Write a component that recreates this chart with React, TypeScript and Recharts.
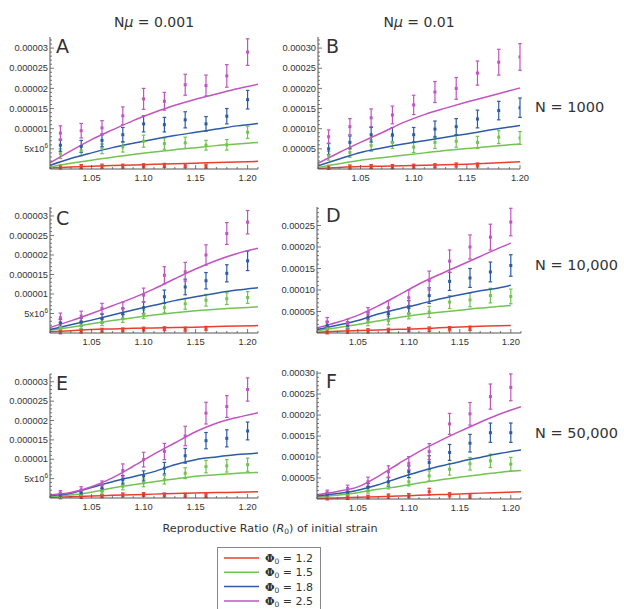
import React from 'react';
import { ComposedChart, Line, Scatter, XAxis, YAxis, ErrorBar } from 'recharts';

// ---------- colours ----------
const RED = '#e8402f';
const GREEN = '#72c452';
const BLUE = '#2d5ba8';
const MAGENTA = '#c154c1';
const AXIS = '#555555';
const TXT = '#333333';

// ---------- x positions ----------
const PT_X = [1.02, 1.04, 1.06, 1.08, 1.1, 1.12, 1.14, 1.16, 1.18, 1.2];
const PT_X_RED = [1.02, 1.04, 1.06, 1.08, 1.1, 1.12, 1.14, 1.16];
const LINE_X = [1.01, 1.03, 1.05, 1.07, 1.09, 1.11, 1.13, 1.15, 1.17, 1.19, 1.21];
const LINE_X_S = [1.01, 1.03, 1.05, 1.07, 1.09, 1.11, 1.13, 1.15, 1.17, 1.19, 1.2];
const X_MAJOR = [1.05, 1.1, 1.15, 1.2];

// ---------- tick labels ----------
const Y_MAJOR_SMALL = [5, 10, 15, 20, 25, 30]; // units of 1e-6
const Y_LABELS_SMALL = ['5x10^6', '0.00001', '0.000015', '0.00002', '0.000025', '0.00003'];
const Y_MAJOR_BIG = [5, 10, 15, 20, 25, 30]; // units of 1e-5
const Y_LABELS_BIG = ['0.00005', '0.00010', '0.00015', '0.00020', '0.00025', '0.00030'];
const Y_MAJOR_D = [5, 10, 15, 20, 25];
const Y_LABELS_D = ['0.00005', '0.00010', '0.00015', '0.00020', '0.00025'];

// ---------- Panel A (x1e-6) ----------
const A_M = [8.9, 9.5, 10.2, 13.2, 17.4, 16.8, 20.9, 20.7, 23.1, 29.0];
const A_M_E = [1.8, 1.8, 1.8, 2.2, 2.6, 2.2, 2.6, 2.6, 2.8, 3.3];
const A_B = [5.9, 5.6, 7.1, 8.5, 11.2, 11.0, 12.2, 11.2, 13.1, 17.2];
const A_B_E = [1.5, 1.5, 1.6, 1.8, 2.0, 1.8, 2.0, 1.8, 1.9, 2.3];
const A_G = [3.8, 4.5, 5.0, 5.5, 6.9, 6.3, 6.5, 5.9, 6.0, 9.1];
const A_G_E = [1.2, 1.2, 1.2, 1.3, 1.5, 1.4, 1.4, 1.2, 1.3, 1.5];
const A_R = [0.5, 0.6, 0.7, 0.7, 0.8, 0.9, 0.8, 0.7];
const A_R_E = [0.5, 0.5, 0.5, 0.5, 0.5, 0.5, 0.5, 0.5];
const A_LM = [1.5, 4.5, 7.3, 9.7, 12.0, 14.0, 15.8, 17.3, 18.6, 19.9, 21.0];
const A_LB = [0.9, 2.6, 4.0, 5.3, 6.4, 7.4, 8.3, 9.1, 9.9, 10.7, 11.3];
const A_LG = [0.5, 1.4, 2.2, 2.9, 3.6, 4.2, 4.8, 5.3, 5.8, 6.2, 6.6];
const A_LR = [0.25, 0.5, 0.7, 0.85, 1.0, 1.15, 1.3, 1.45, 1.6, 1.75, 1.9];

// ---------- Panel B (x1e-5) ----------
const B_M = [8.0, 10.5, 12.7, 13.4, 15.9, 19.1, 20.0, 23.8, 26.5, 27.8];
const B_M_E = [1.7, 2.0, 2.2, 2.2, 2.4, 2.6, 2.7, 3.0, 3.2, 3.3];
const B_B = [5.0, 6.6, 8.5, 8.5, 8.5, 9.9, 10.5, 12.4, 14.5, 15.2];
const B_B_E = [1.4, 1.6, 1.8, 1.8, 1.8, 2.0, 2.0, 2.2, 2.3, 2.4];
const B_G = [3.3, 4.1, 5.8, 6.6, 5.4, 6.6, 6.9, 6.6, 7.9, 7.7];
const B_G_E = [1.1, 1.2, 1.4, 1.5, 1.3, 1.5, 1.5, 1.5, 1.6, 1.6];
const B_R = [0.4, 0.5, 0.6, 0.6, 0.7, 0.8, 1.0, 1.0];
const B_R_E = [0.5, 0.5, 0.5, 0.5, 0.5, 0.5, 0.5, 0.5];
const B_LM = [1.4, 4.1, 6.6, 9.0, 11.5, 13.5, 15.1, 16.6, 18.0, 19.4, 20.1];
const B_LB = [0.8, 2.5, 4.1, 5.2, 6.2, 7.0, 7.9, 8.7, 9.6, 10.4, 10.8];
const B_LG = [0.4, 1.3, 2.2, 2.8, 3.4, 4.0, 4.6, 5.1, 5.5, 6.0, 6.2];
const B_LR = [0.15, 0.4, 0.6, 0.7, 0.8, 0.9, 1.05, 1.2, 1.4, 1.65, 1.8];

// ---------- Panel C (x1e-6) ----------
const C_M = [3.9, 4.3, 6.3, 6.3, 9.7, 14.8, 15.7, 20.0, 25.5, 28.4];
const C_M_E = [1.2, 1.3, 1.3, 1.6, 1.8, 2.2, 2.4, 2.6, 2.8, 3.0];
const C_B = [2.6, 2.8, 3.7, 5.0, 6.5, 9.3, 11.8, 13.4, 15.3, 18.5];
const C_B_E = [0.9, 1.0, 1.1, 1.3, 1.5, 1.7, 2.0, 2.1, 2.2, 2.5];
const C_G = [1.4, 2.0, 2.8, 3.7, 4.8, 6.5, 7.5, 8.4, 8.8, 9.1];
const C_G_E = [0.7, 0.8, 0.9, 1.0, 1.1, 1.3, 1.4, 1.5, 1.5, 1.5];
const C_R = [0.3, 0.5, 0.7, 0.8, 1.0, 1.1, 1.0, 1.2];
const C_R_E = [0.5, 0.5, 0.5, 0.5, 0.5, 0.5, 0.5, 0.5];
const C_LM = [1.4, 3.1, 5.0, 7.0, 9.0, 11.3, 13.9, 16.4, 18.6, 20.4, 21.7];
const C_LB = [0.9, 2.1, 3.3, 4.6, 5.9, 7.1, 8.3, 9.3, 10.2, 11.0, 11.6];
const C_LG = [0.7, 1.5, 2.4, 3.2, 3.9, 4.6, 5.2, 5.7, 6.1, 6.4, 6.7];
const C_LR = [0.3, 0.6, 0.9, 1.05, 1.2, 1.3, 1.4, 1.5, 1.65, 1.8, 1.9];

// ---------- Panel D (x1e-5) ----------
const D_M = [2.6, 2.2, 4.5, 5.9, 8.2, 12.2, 16.7, 20.0, 22.3, 25.8];
const D_M_E = [1.0, 1.0, 1.4, 1.6, 1.8, 2.2, 2.6, 2.8, 3.0, 3.2];
const D_B = [1.8, 1.8, 3.7, 4.5, 6.0, 8.7, 12.0, 12.8, 14.2, 15.7];
const D_B_E = [0.8, 0.8, 1.2, 1.3, 1.5, 1.8, 2.1, 2.2, 2.3, 2.5];
const D_G = [1.0, 1.4, 2.6, 2.9, 4.5, 4.9, 7.2, 7.7, 8.7, 8.5];
const D_G_E = [0.6, 0.7, 0.9, 1.0, 1.2, 1.3, 1.5, 1.6, 1.7, 1.7];
const D_R = [0.3, 0.4, 0.5, 0.6, 0.8, 0.9, 1.0, 1.1];
const D_R_E = [0.5, 0.5, 0.5, 0.5, 0.5, 0.5, 0.5, 0.5];
const D_LM = [1.2, 2.5, 4.1, 6.3, 8.8, 11.4, 13.6, 15.7, 17.8, 19.9, 20.9];
const D_LB = [0.8, 1.8, 2.9, 4.4, 5.6, 6.7, 7.9, 8.9, 9.8, 10.6, 11.1];
const D_LG = [0.5, 1.2, 2.0, 2.8, 3.6, 4.3, 4.8, 5.3, 5.8, 6.2, 6.4];
const D_LR = [0.15, 0.4, 0.6, 0.7, 0.85, 1.0, 1.2, 1.4, 1.55, 1.7, 1.75];

// ---------- Panel E (x1e-6) ----------
const E_M = [1.3, 2.1, 3.4, 7.1, 9.9, 12.0, 16.0, 21.9, 23.6, 28.0];
const E_M_E = [0.6, 0.8, 1.0, 1.7, 1.9, 2.1, 2.5, 2.8, 2.8, 3.0];
const E_B = [0.7, 1.3, 2.6, 4.7, 5.7, 7.7, 10.9, 14.8, 15.4, 17.3];
const E_B_E = [0.5, 0.6, 0.8, 1.1, 1.3, 1.5, 1.9, 2.1, 2.2, 2.3];
const E_G = [0.4, 0.9, 1.7, 3.0, 3.9, 4.7, 6.4, 8.1, 8.3, 8.6];
const E_G_E = [0.4, 0.5, 0.7, 0.9, 1.0, 1.1, 1.4, 1.6, 1.6, 1.7];
const E_R = [0.2, 0.3, 0.5, 0.8, 0.9, 0.8, 0.7, 0.6];
const E_R_E = [0.4, 0.4, 0.4, 0.5, 0.5, 0.5, 0.5, 0.5];
const E_LM = [0.8, 1.4, 2.9, 5.2, 8.2, 11.3, 14.2, 17.1, 19.3, 20.8, 22.0];
const E_LB = [0.6, 1.2, 2.7, 4.2, 5.5, 6.8, 8.6, 9.9, 10.6, 11.2, 11.6];
const E_LG = [0.4, 0.8, 1.5, 2.6, 3.4, 4.2, 4.9, 5.6, 6.0, 6.4, 6.6];
const E_LR = [0.2, 0.35, 0.5, 0.7, 0.85, 1.0, 1.15, 1.3, 1.4, 1.5, 1.6];

// ---------- Panel F (x1e-5) ----------
const F_M = [1.5, 2.5, 4.1, 6.5, 8.5, 11.3, 17.9, 20.3, 24.4, 26.6];
const F_M_E = [0.6, 0.8, 1.1, 1.4, 1.6, 1.9, 2.5, 2.7, 3.0, 3.2];
const F_B = [1.0, 1.6, 2.8, 4.1, 6.5, 8.7, 11.1, 13.3, 15.8, 15.8];
const F_B_E = [0.5, 0.6, 0.9, 1.1, 1.4, 1.6, 1.9, 2.1, 2.3, 2.3];
const F_G = [0.6, 1.2, 2.1, 3.3, 4.1, 5.5, 7.1, 8.4, 9.1, 8.3];
const F_G_E = [0.4, 0.5, 0.7, 0.9, 1.0, 1.2, 1.4, 1.5, 1.6, 1.6];
const F_R = [0.2, 0.3, 0.5, 0.7, 0.8, 1.75, 1.0, 0.7];
const F_R_E = [0.4, 0.4, 0.4, 0.5, 0.5, 0.8, 0.5, 0.5];
const F_LM = [1.0, 1.8, 2.9, 5.4, 8.4, 11.3, 13.8, 16.1, 18.3, 20.3, 22.0];
const F_LB = [0.7, 1.3, 2.1, 3.4, 5.0, 6.5, 7.8, 8.9, 9.9, 10.9, 11.7];
const F_LG = [0.5, 0.9, 1.5, 2.3, 3.0, 3.8, 4.5, 5.2, 5.8, 6.4, 6.8];
const F_LR = [0.15, 0.25, 0.4, 0.55, 0.7, 0.9, 1.05, 1.2, 1.4, 1.55, 1.7];

// ---------- helpers ----------
const pts = (xs: number[], ys: number[], es: number[]) => xs.map((x, i) => ({ x, y: ys[i], e: es[i] }));
const line = (xs: number[], ys: number[]) => xs.map((x, i) => ({ x, y: ys[i] }));
const range = (a: number, b: number, step: number) => {
  const out: number[] = [];
  for (let v = a; v <= b + step / 10; v += step) out.push(Math.round(v * 1000) / 1000);
  return out;
};

type Series = { color: string; points: any[]; line: any[] };
type PanelCfg = {
  px: number; py: number; pw: number; ph: number;
  xMax: number; yMax: number;
  yMajor: number[]; yLabels: string[];
  series: Series[];
};

const mkSeries = (
  r: number[], re: number[], g: number[], ge: number[], b: number[], be: number[], m: number[], me: number[],
  lx: number[], lr: number[], lg: number[], lb: number[], lm: number[]
): Series[] => [
  { color: RED, points: pts(PT_X_RED, r, re), line: line(lx, lr) },
  { color: GREEN, points: pts(PT_X, g, ge), line: line(lx, lg) },
  { color: BLUE, points: pts(PT_X, b, be), line: line(lx, lb) },
  { color: MAGENTA, points: pts(PT_X, m, me), line: line(lx, lm) },
];

const PANELS: PanelCfg[] = [
  { px: 50, py: 37, pw: 208, ph: 132, xMax: 1.21, yMax: 32.75, yMajor: Y_MAJOR_SMALL, yLabels: Y_LABELS_SMALL,
    series: mkSeries(A_R, A_R_E, A_G, A_G_E, A_B, A_B_E, A_M, A_M_E, LINE_X, A_LR, A_LG, A_LB, A_LM) },
  { px: 318, py: 37, pw: 202, ph: 132, xMax: 1.2, yMax: 32.75, yMajor: Y_MAJOR_BIG, yLabels: Y_LABELS_BIG,
    series: mkSeries(B_R, B_R_E, B_G, B_G_E, B_B, B_B_E, B_M, B_M_E, LINE_X_S, B_LR, B_LG, B_LB, B_LM) },
  { px: 50, py: 207, pw: 208, ph: 126, xMax: 1.21, yMax: 32.3, yMajor: Y_MAJOR_SMALL, yLabels: Y_LABELS_SMALL,
    series: mkSeries(C_R, C_R_E, C_G, C_G_E, C_B, C_B_E, C_M, C_M_E, LINE_X, C_LR, C_LG, C_LB, C_LM) },
  { px: 317, py: 207, pw: 204, ph: 126, xMax: 1.21, yMax: 29.3, yMajor: Y_MAJOR_D, yLabels: Y_LABELS_D,
    series: mkSeries(D_R, D_R_E, D_G, D_G_E, D_B, D_B_E, D_M, D_M_E, LINE_X_S, D_LR, D_LG, D_LB, D_LM) },
  { px: 50, py: 374, pw: 208, ph: 124, xMax: 1.21, yMax: 32.0, yMajor: Y_MAJOR_SMALL, yLabels: Y_LABELS_SMALL,
    series: mkSeries(E_R, E_R_E, E_G, E_G_E, E_B, E_B_E, E_M, E_M_E, LINE_X, E_LR, E_LG, E_LB, E_LM) },
  { px: 317, py: 371, pw: 204, ph: 128, xMax: 1.21, yMax: 30.5, yMajor: Y_MAJOR_BIG, yLabels: Y_LABELS_BIG,
    series: mkSeries(F_R, F_R_E, F_G, F_G_E, F_B, F_B_E, F_M, F_M_E, LINE_X, F_LR, F_LG, F_LB, F_LM) },
];

const TICK_FONT = 'Liberation Sans, Arial, sans-serif';
const SANS = 'DejaVu Sans, Verdana, sans-serif';

const renderYLabel = (label: string, x: number, y: number) => {
  const [base, sup] = label.split('^');
  return (
    <text x={x} y={y} textAnchor="end" fontSize={9.3} fontFamily={TICK_FONT} fill={TXT}>
      {base}
      {sup !== undefined && <tspan dy={-4} fontSize={6.5}>{sup}</tspan>}
    </text>
  );
};

const makeYTick = (majors: number[], labels: string[]) => (props: any) => {
  const { x, y, payload } = props;
  const idx = majors.findIndex((m) => Math.abs(m - payload.value) < 1e-6);
  const major = idx >= 0;
  return (
    <g>
      <line x1={x} x2={x + (major ? 4 : 2)} y1={y} y2={y} stroke={AXIS} strokeWidth={0.8} />
      {major && renderYLabel(labels[idx], x - 2, y + 3.2)}
    </g>
  );
};

const xTick = (props: any) => {
  const { x, y, payload } = props;
  const major = X_MAJOR.some((m) => Math.abs(m - payload.value) < 1e-6);
  return (
    <g>
      <line x1={x} x2={x} y1={y} y2={y - (major ? 4 : 2)} stroke={AXIS} strokeWidth={0.8} />
      {major && (
        <text x={x} y={y + 12} textAnchor="middle" fontSize={9.3} fontFamily={TICK_FONT} fill={TXT}>
          {payload.value.toFixed(2)}
        </text>
      )}
    </g>
  );
};

function Panel({ cfg }: { cfg: PanelCfg }) {
  const YW = 48, XH = 20, MT = 4, MR = 14;
  const w = YW + cfg.pw + MR;
  const h = MT + cfg.ph + XH;
  const xTicks = range(1.01, cfg.xMax, 0.01);
  const yTicks = range(1, Math.floor(cfg.yMax), 1);
  const yTick = makeYTick(cfg.yMajor, cfg.yLabels);
  return (
    <div style={{ position: 'absolute', left: cfg.px - YW, top: cfg.py - MT }}>
      <ComposedChart width={w} height={h} margin={{ top: MT, right: MR, bottom: 0, left: 0 }}>
        <XAxis type="number" dataKey="x" domain={[1.01, cfg.xMax]} allowDataOverflow ticks={xTicks} interval={0}
          tick={xTick} tickSize={0} tickMargin={0} height={XH} tickLine={false}
          axisLine={{ stroke: AXIS, strokeWidth: 1 }} />
        <YAxis type="number" dataKey="y" domain={[0, cfg.yMax]} allowDataOverflow ticks={yTicks} interval={0}
          tick={yTick} tickSize={0} tickMargin={0} width={YW} tickLine={false}
          axisLine={{ stroke: AXIS, strokeWidth: 1 }} />
        {cfg.series.map((s, i) => (
          <Scatter key={'s' + i} data={s.points} dataKey="y" isAnimationActive={false}
            shape={(p: any) => <rect x={p.cx - 1.5} y={p.cy - 1.5} width={3} height={3} fill={s.color} />}>
            <ErrorBar dataKey="e" direction="y" width={1.8} stroke={s.color} strokeWidth={1.2} />
          </Scatter>
        ))}
        {cfg.series.map((s, i) => (
          <Line key={'l' + i} data={s.line} dataKey="y" type="monotone" stroke={s.color} strokeWidth={1.5}
            dot={false} activeDot={false} isAnimationActive={false} />
        ))}
      </ComposedChart>
    </div>
  );
}

const LEGEND = [
  { color: RED, label: '1.2' },
  { color: GREEN, label: '1.5' },
  { color: BLUE, label: '1.8' },
  { color: MAGENTA, label: '2.5' },
];

export default function App() {
  return (
    <div style={{ position: 'absolute', left: 0, top: 0, width: 624, height: 609, overflow: 'hidden', background: '#fff' }}>
      {PANELS.map((p, i) => <Panel key={i} cfg={p} />)}
      <svg width={624} height={609} style={{ position: 'absolute', left: 0, top: 0, pointerEvents: 'none' }}>
        <g fontFamily={SANS} fill={TXT}>
          <text x={154} y={27} fontSize={14} textAnchor="middle">N<tspan fontStyle="italic">μ</tspan> = 0.001</text>
          <text x={419} y={27} fontSize={14} textAnchor="middle">N<tspan fontStyle="italic">μ</tspan> = 0.01</text>
          <text x={535} y={112} fontSize={14.5}>N = 1000</text>
          <text x={535} y={270} fontSize={14.5}>N = 10,000</text>
          <text x={535} y={438} fontSize={14.5}>N = 50,000</text>
          <text x={56} y={53} fontSize={19}>A</text>
          <text x={326} y={53} fontSize={19}>B</text>
          <text x={56} y={225} fontSize={19}>C</text>
          <text x={326} y={222} fontSize={19}>D</text>
          <text x={56} y={390} fontSize={19}>E</text>
          <text x={326} y={388} fontSize={19}>F</text>
          <text x={270} y={532} fontSize={11.2} textAnchor="middle">
            Reproductive Ratio (<tspan fontStyle="italic">R</tspan><tspan fontSize={7.5} dy={2}>0</tspan><tspan dy={-2}>) of initial strain</tspan>
          </text>
        </g>
        <rect x={217.5} y={547.5} width={103} height={80} fill="#fff" stroke="#888" strokeWidth={1} />
        {LEGEND.map((l, i) => {
          const y = 558 + i * 14.3;
          return (
            <g key={i}>
              <line x1={224} x2={259} y1={y} y2={y} stroke={l.color} strokeWidth={1.5} />
              <text x={265} y={y + 4} fontSize={11} fontFamily={SANS} fill={TXT}>
                <tspan fontFamily="DejaVu Serif, serif" fontWeight="bold">Φ</tspan>
                <tspan fontSize={7.5} dy={2}>0</tspan>
                <tspan dy={-2}> = {l.label}</tspan>
              </text>
            </g>
          );
        })}
      </svg>
    </div>
  );
}
